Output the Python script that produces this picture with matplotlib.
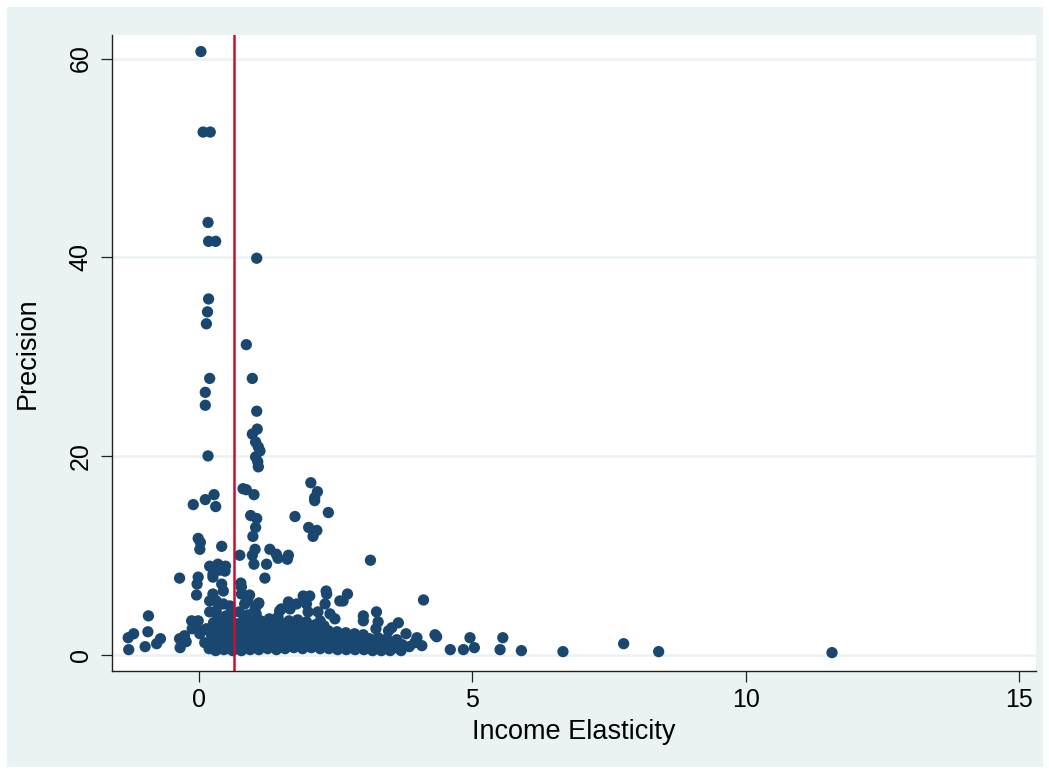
import numpy as np
import matplotlib
matplotlib.use('Agg')
import matplotlib.pyplot as plt
from matplotlib.patches import Rectangle

plt.rcParams['font.family'] = ['Liberation Sans', 'DejaVu Sans']

# scattered points
sparse_x = [0.04, 0.08, 0.21, 0.17, 0.18, 0.31, 1.06, 0.18, 0.16, 0.14,
            0.87, 0.20, 0.98, 0.12, 0.12, 1.06, 1.07, 0.98, 1.04, 1.09,
            1.12, 1.04, 1.08, 1.09, 0.17, 2.05, 2.17, 2.12, 2.12, 0.81,
            0.87, 1.01, 2.37, 1.76, 0.95, 1.06, 1.04, 0.99, 2.01, 2.16,
            2.09, -0.10, 0.12, 0.28, 0.31, -0.01, 0.03, 0.02, 0.42, 0.75,
            1.03, 0.98, 1.01, 1.30, 1.42, 1.45, 1.64, 1.62, 1.24, 1.21,
            3.14, 0.20, 0.35, 0.49, 0.26, 0.38, 0.48, 0.26, -0.35, -0.01,
            -0.03, 0.42, 0.45, 0.77, 0.78, -0.04, 0.26, 0.20, 0.32, 0.20,
            0.32, 0.45, 0.57, 0.78, 0.93, 0.84, 1.09, 1.48, 1.64, 1.79,
            1.91, 2.03, 1.97, 2.00, 2.18, 2.34, 2.31, 2.49, 2.58, 2.72,
            2.64, 2.33, 4.11, 0.90, 1.10, 1.03, 1.51, 1.67, 2.22, 2.40,
            0.60, -0.92, -0.93, -1.29, -1.19, -1.28, -0.98, -0.77, -0.70, -0.35,
            -0.26, -0.23, -0.34, -0.13, -0.07, -0.12, -0.01, 0.02, 0.11, 0.19,
            0.05, 0.14, 0.38, 0.32, 0.45, 0.26, 0.51, 3.01, 3.01, 3.25,
            3.28, 3.24, 3.65, 3.53, 3.47, 3.79, 3.99, 4.08, 4.32, 4.35,
            4.60, 4.84, 4.96, 5.04, 5.51, 5.56, 5.90, 6.66, 7.77, 8.41,
            11.58]
sparse_y = [60.7, 52.6, 52.6, 43.5, 41.6, 41.6, 39.9, 35.8, 34.5, 33.3,
            31.2, 27.8, 27.8, 26.4, 25.1, 24.5, 22.7, 22.2, 21.4, 20.9,
            20.5, 19.9, 19.4, 18.9, 20.0, 17.3, 16.4, 15.8, 15.5, 16.7,
            16.6, 16.1, 14.3, 13.9, 14.0, 13.7, 12.8, 11.9, 12.8, 12.5,
            11.9, 15.1, 15.6, 16.1, 14.9, 11.7, 11.3, 10.6, 10.9, 10.0,
            10.6, 10.0, 9.1, 10.6, 10.1, 9.7, 10.0, 9.6, 9.1, 7.7,
            9.5, 8.9, 9.1, 8.9, 8.1, 8.5, 8.4, 7.8, 7.7, 7.8,
            7.1, 7.1, 6.4, 7.2, 6.8, 6.0, 6.1, 5.4, 5.4, 4.3,
            4.4, 5.1, 4.9, 6.1, 6.0, 5.1, 5.1, 4.4, 5.3, 5.1,
            5.9, 5.9, 5.1, 4.3, 4.3, 6.1, 5.1, 3.6, 5.4, 6.1,
            5.4, 6.4, 5.5, 5.4, 5.2, 4.6, 4.6, 4.6, 3.4, 4.1,
            4.1, 3.9, 2.3, 1.7, 2.1, 0.5, 0.8, 1.1, 1.6, 1.6,
            1.9, 1.3, 0.7, 3.4, 3.1, 2.6, 3.4, 2.1, 1.2, 0.6,
            2.4, 2.6, 3.1, 2.4, 1.7, 1.1, 0.7, 3.9, 3.4, 4.3,
            3.3, 2.6, 3.2, 2.7, 2.4, 2.1, 1.7, 0.9, 2.0, 1.8,
            0.5, 0.5, 1.7, 0.7, 0.5, 1.7, 0.4, 0.3, 1.1, 0.3,
            0.2]

# the dense cluster near the bottom
dense_x = [0.24, 0.23, 0.27, 0.31, 0.33, 0.29, 0.35, 0.39, 0.41, 0.37,
           0.46, 0.48, 0.44, 0.50, 0.55, 0.53, 0.57, 0.62, 0.60, 0.64,
           0.66, 0.70, 0.72, 0.69, 0.74, 0.78, 0.80, 0.77, 0.82, 0.86,
           0.88, 0.85, 0.90, 0.94, 0.96, 0.93, 0.97, 1.02, 1.04, 1.01,
           1.05, 1.10, 1.12, 1.09, 1.13, 1.18, 1.20, 1.17, 1.26, 1.28,
           1.25, 1.29, 1.34, 1.36, 1.33, 1.42, 1.44, 1.41, 1.45, 1.50,
           1.52, 1.49, 1.58, 1.60, 1.57, 1.66, 1.68, 1.65, 1.74, 1.76,
           1.73, 1.82, 1.84, 1.81, 1.90, 1.92, 1.89, 1.98, 2.00, 1.97,
           2.06, 2.08, 2.05, 2.14, 2.16, 2.13, 2.22, 2.24, 2.21, 2.30,
           2.32, 2.29, 2.38, 2.40, 2.37, 2.46, 2.48, 2.54, 2.56, 2.53,
           2.62, 2.64, 2.70, 2.72, 2.69, 2.78, 2.80, 2.86, 2.88, 2.85,
           2.94, 2.96, 3.02, 3.04, 3.01, 3.10, 3.12, 3.18, 3.20, 3.26,
           3.28, 3.34, 3.36, 3.42, 3.44, 3.50, 3.52, 3.60, 3.62, 3.70,
           3.72, 3.85, 3.95]
dense_y = [0.9, 2.0, 3.2, 0.4, 1.6, 2.8, 3.8, 1.0, 2.2, 3.4,
           0.5, 1.3, 2.7, 3.9, 1.1, 2.3, 3.3, 0.4, 1.6, 2.6,
           1.0, 0.8, 2.0, 3.1, 4.3, 0.4, 1.4, 2.5, 3.5, 0.9,
           1.9, 3.0, 4.0, 0.5, 1.5, 2.4, 3.4, 1.0, 2.0, 2.9,
           4.1, 0.5, 1.4, 2.5, 3.4, 0.9, 1.9, 3.0, 0.6, 1.5,
           2.4, 3.6, 1.1, 2.0, 3.0, 0.5, 1.5, 2.6, 3.8, 1.0,
           2.1, 3.2, 0.6, 1.6, 2.7, 1.2, 2.2, 3.4, 0.7, 1.7,
           2.8, 1.2, 2.3, 3.5, 0.6, 1.7, 2.7, 1.1, 2.2, 3.3,
           0.7, 1.6, 2.6, 1.2, 2.1, 3.0, 0.6, 1.6, 2.5, 1.1,
           2.0, 2.9, 0.6, 1.5, 2.4, 1.0, 1.9, 0.5, 1.4, 2.3,
           0.9, 1.8, 0.5, 1.3, 2.2, 0.9, 1.7, 0.5, 1.3, 2.1,
           0.8, 1.6, 0.5, 1.2, 2.0, 0.8, 1.6, 0.4, 1.2, 0.8,
           1.7, 0.4, 1.2, 0.7, 1.6, 0.4, 1.1, 0.7, 1.5, 0.4,
           1.0, 0.8, 1.2]

mean_elasticity = 0.64
x_ticks = [0, 5, 10, 15]
y_ticks = [0, 20, 40, 60]

elasticity = np.array(sparse_x + dense_x)
precision = np.array(sparse_y + dense_y)

bg = '#eaf2f3'
navy = '#1a476f'

fig = plt.figure(figsize=(10.49, 7.73), dpi=100)
fig.patch.set_facecolor('white')
frame = Rectangle((7/1049, 6/773), 1 - 13/1049, 1 - 13/773,
                  transform=fig.transFigure, facecolor=bg,
                  edgecolor='none', zorder=-10)
fig.add_artist(frame)

ax = fig.add_axes([112/1049, 1 - 671/773, 924/1049, 636/773])
ax.set_zorder(1)
ax.set_facecolor('white')

ax.scatter(elasticity, precision, s=66, color=navy, edgecolors='none', zorder=2)
ax.axvline(mean_elasticity, color='#c8102e', lw=1.8, zorder=3)

ax.set_xlim(-1.586, 15.31)
ax.set_ylim(-1.65, 62.37)
ax.set_xticks(x_ticks)
ax.set_yticks(y_ticks)
ax.grid(axis='y', color=bg, lw=1.8, zorder=1)
ax.set_axisbelow(True)

for s in ['top', 'right']:
    ax.spines[s].set_visible(False)
for s in ['left', 'bottom']:
    ax.spines[s].set_color('#222222')
    ax.spines[s].set_linewidth(1.0)

ax.tick_params(axis='both', direction='out', length=8, width=0.9,
               color='#222222', labelsize=18)
ax.tick_params(axis='x', pad=4)
ax.tick_params(axis='y', pad=6)
for lab in ax.get_yticklabels():
    lab.set_rotation(90)
    lab.set_va('center')

ax.set_xlabel('Income Elasticity', fontsize=19.5, labelpad=5)
ax.set_ylabel('Precision', fontsize=19.5, labelpad=20)

plt.savefig('out.png', dpi=100)
